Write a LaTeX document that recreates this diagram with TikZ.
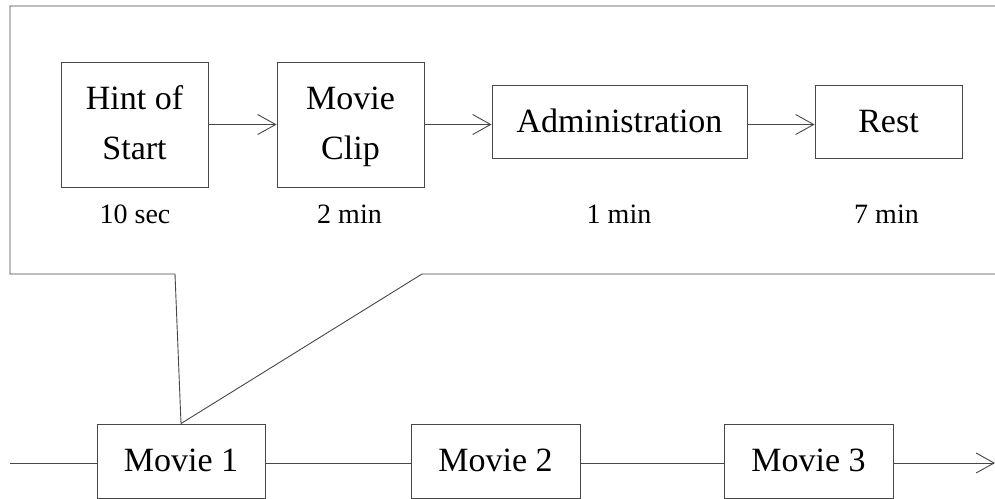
\documentclass[tikz,border=0pt]{standalone}
\usepackage{fontspec}
\setmainfont{Liberation Serif}
\usetikzlibrary{arrows.meta}
\begin{document}
\begin{tikzpicture}[x=0.5pt,y=-0.5pt,
  line/.style={draw=black!72,line width=0.45pt},
  tip/.style={-{Straight Barb[length=9pt,width=10pt,line width=0.45pt]}},
  box/.style={line,inner sep=0pt,align=center,font=\fontsize{17}{25}\selectfont,text=black},
  lbl/.style={inner sep=0pt,anchor=base,font=\fontsize{14}{18}\selectfont},
]
\useasboundingbox (0,0) rectangle (995,498);
% top row
\node[box,minimum width=73.5pt,minimum height=62.5pt] (hint) at (134.5,124.5) {Hint of\strut\\Start\strut};
\node[box,minimum width=73.5pt,minimum height=62.5pt] (clip) at (350.5,124.5) {Movie\strut\\Clip\strut};
\node[box,minimum width=127.5pt,minimum height=36.5pt] (admin) at (619.5,122) {Administration\strut};
\node[box,minimum width=73.5pt,minimum height=36.5pt] (rest) at (888.5,122) {Rest\strut};
\node[lbl] (t1) at (135,223) {10 sec};
\node[lbl] (t2) at (349.5,223) {2 min};
\node[lbl] (t3) at (619,223) {1 min};
\node[lbl] (t4) at (886.5,223) {7 min};
\draw[line,tip] (hint.east |- 0,124.5) -- (clip.west |- 0,124.5);
\draw[line,tip] (clip.east |- 0,124.5) -- (admin.west |- 0,124.5);
\draw[line,tip] (admin.east |- 0,124.5) -- (rest.west |- 0,124.5);
% bottom row
\node[box,minimum width=84pt,minimum height=37pt] (m1) at (181,461) {Movie 1\strut};
\node[box,minimum width=84.5pt,minimum height=37pt] (m2) at (495.5,461) {Movie 2\strut};
\node[box,minimum width=84.5pt,minimum height=37pt] (m3) at (808.5,461) {Movie 3\strut};
\coordinate (start) at (10,463);
\coordinate (end) at (995,463);
\draw[line] (start) -- (m1.west |- start);
\draw[line] (m1.east |- start) -- (m2.west |- start);
\draw[line] (m2.east |- start) -- (m3.west |- start);
\draw[line,tip] (m3.east |- start) -- (end);
% callout
\coordinate (tl) at (10,6);
\coordinate (tr) at (995,6);
\coordinate (bl) at (10,274);
\coordinate (c1) at (175,274);
\coordinate (c2) at (422,274);
\coordinate (br) at (995,274);
\draw[line] (tr) -- (tl) -- (bl) -- (c1) -- (m1.north) -- (c2) -- (br);
\end{tikzpicture}
\end{document}
